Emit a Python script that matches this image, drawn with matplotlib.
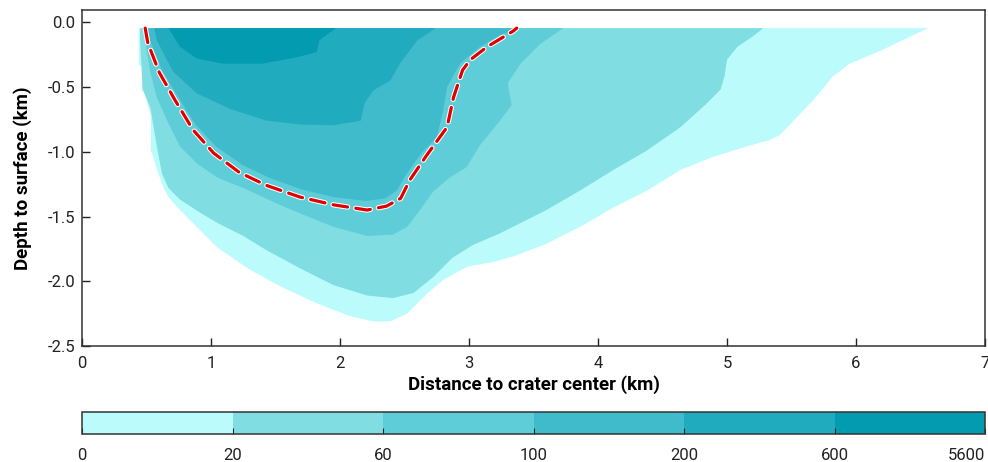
import matplotlib
matplotlib.use("Agg")
import numpy as np
import matplotlib.pyplot as plt
from matplotlib.colors import ListedColormap, BoundaryNorm
from matplotlib.cm import ScalarMappable
import matplotlib.patheffects as pe

plt.rcParams['font.family'] = ['Roboto', 'DejaVu Sans']
plt.rcParams['axes.unicode_minus'] = False

# contour levels and colours
levels = [0, 20, 60, 100, 200, 600, 5600]
colors = ['#BBFBFB', '#80DEE3', '#5ECDD8', '#3FBBCB', '#21ABBF', '#029BB0']

# lower boundary of each filled region (x in km, depth in km)
x_0 = [0.44, 0.44, 0.465, 0.465, 0.49, 0.51, 0.535, 0.535, 0.566, 0.59, 0.63, 0.67, 0.74, 0.84, 0.94,
       1.05, 1.30, 1.56, 1.82, 2.08, 2.26, 2.39, 2.52, 2.67, 2.80, 2.98, 3.19, 3.34, 3.60, 3.86,
       4.12, 4.38, 4.64, 4.89, 5.15, 5.33, 5.41, 5.67, 5.82, 5.95, 6.19, 6.39, 6.56]
z_0 = [-0.046, -0.33, -0.34, -0.52, -0.55, -0.64, -0.73, -0.99, -1.09, -1.165, -1.27, -1.35, -1.43,
       -1.53, -1.63, -1.74, -1.91, -2.05, -2.17, -2.27, -2.31, -2.31, -2.25, -2.10, -1.99, -1.89,
       -1.85, -1.81, -1.71, -1.58, -1.43, -1.30, -1.14, -1.04, -0.96, -0.91, -0.87, -0.60, -0.42,
       -0.32, -0.22, -0.125, -0.046]

x_20 = [0.45, 0.45, 0.47, 0.53, 0.55, 0.58, 0.62, 0.67, 0.76, 0.915, 1.05, 1.25, 1.43, 1.69, 1.95,
        2.21, 2.41, 2.57, 2.72, 2.87, 3.03, 3.24, 3.34, 3.60, 3.86, 4.12, 4.38, 4.64, 4.84, 4.95,
        4.98, 5.00, 5.08, 5.20, 5.28]
z_20 = [-0.046, -0.14, -0.52, -0.66, -0.78, -0.96, -1.17, -1.28, -1.37, -1.47, -1.55, -1.65, -1.76,
        -1.90, -2.03, -2.11, -2.13, -2.09, -1.97, -1.82, -1.72, -1.63, -1.58, -1.45, -1.30, -1.14,
        -0.99, -0.81, -0.63, -0.52, -0.42, -0.29, -0.19, -0.11, -0.046]

x_60 = [0.48, 0.49, 0.53, 0.58, 0.66, 0.76, 0.89, 1.05, 1.25, 1.51, 1.75, 1.95, 2.21, 2.41, 2.52,
        2.62, 2.72, 2.85, 2.98, 3.085, 3.24, 3.33, 3.30, 3.40, 3.55, 3.73]
z_60 = [-0.046, -0.14, -0.39, -0.58, -0.76, -0.96, -1.09, -1.20, -1.28, -1.40, -1.50, -1.58, -1.65,
        -1.64, -1.58, -1.45, -1.31, -1.20, -1.12, -0.95, -0.76, -0.64, -0.47, -0.32, -0.17, -0.046]

x_100 = [0.51, 0.53, 0.62, 0.76, 0.88, 1.04, 1.24, 1.45, 1.70, 1.95, 2.20, 2.35, 2.44, 2.51, 2.63,
         2.75, 2.80, 2.83, 2.93, 3.085, 3.24, 3.40]
z_100 = [-0.046, -0.15, -0.37, -0.60, -0.79, -0.96, -1.10, -1.20, -1.29, -1.35, -1.38, -1.36, -1.30,
         -1.18, -1.01, -0.89, -0.68, -0.50, -0.32, -0.19, -0.10, -0.046]

x_200 = [0.56, 0.58, 0.705, 0.89, 1.15, 1.43, 1.69, 1.95, 2.16, 2.19, 2.26, 2.39, 2.47, 2.60, 2.74]
z_200 = [-0.046, -0.14, -0.38, -0.55, -0.67, -0.76, -0.79, -0.795, -0.76, -0.625, -0.525, -0.45,
         -0.31, -0.14, -0.046]

x_600 = [0.67, 0.76, 0.89, 1.09, 1.40, 1.67, 1.82, 1.84, 1.92, 1.97]
z_600 = [-0.046, -0.19, -0.28, -0.32, -0.32, -0.27, -0.23, -0.14, -0.08, -0.046]

# red dashed contour
x_red = [0.49, 0.51, 0.60, 0.72, 0.86, 1.02, 1.22, 1.43, 1.69, 1.95, 2.21, 2.36, 2.47, 2.54, 2.67,
         2.83, 2.88, 2.95, 3.01, 3.14, 3.34, 3.37]
z_red = [-0.046, -0.16, -0.39, -0.60, -0.83, -1.01, -1.16, -1.26, -1.35, -1.41, -1.45, -1.42, -1.36,
         -1.22, -1.03, -0.81, -0.58, -0.37, -0.29, -0.19, -0.07, -0.046]

regions = [(x_0, z_0), (x_20, z_20), (x_60, z_60), (x_100, z_100), (x_200, z_200), (x_600, z_600)]

fig = plt.figure(figsize=(9.88, 4.62), dpi=100)
ax = fig.add_axes([0.083, 0.251, 0.914, 0.727])

for (xs, zs), c in zip(regions, colors):
    ax.fill(xs, zs, color=c, lw=0, zorder=2)

ax.plot(x_red, z_red, color='#E00000', lw=2.3, dashes=(4.6, 2.6), solid_capstyle='round',
        dash_capstyle='round', zorder=4,
        path_effects=[pe.Stroke(linewidth=3.8, foreground='white'), pe.Normal()])

ax.set_xlim(0, 7)
ax.set_ylim(-2.5, 0.093)
ax.set_xticks(range(0, 8))
ax.set_yticks([0.0, -0.5, -1.0, -1.5, -2.0, -2.5])
ax.set_yticklabels(['0.0', '-0.5', '-1.0', '-1.5', '-2.0', '-2.5'])
ax.tick_params(direction='in', length=6, width=1, labelsize=12, colors='#222222')
ax.tick_params(axis='x', pad=7)
ax.tick_params(axis='y', pad=5)
for s in ax.spines.values():
    s.set_color('#333333')
    s.set_linewidth(1.1)
ax.set_xlabel('Distance to crater center (km)', fontsize=13.5, fontweight='bold', labelpad=3)
ax.set_ylabel('Depth to surface (km)', fontsize=13.5, fontweight='bold', labelpad=11)

# colour bar
cmap = ListedColormap(colors)
norm = BoundaryNorm(levels, cmap.N)
sm = ScalarMappable(norm=norm, cmap=cmap)
cax = fig.add_axes([0.083, 0.0606, 0.914, 0.0476])
cb = fig.colorbar(sm, cax=cax, orientation='horizontal', spacing='uniform', ticks=levels)
cb.ax.set_xticklabels([str(v) for v in levels])
cb.ax.tick_params(direction='in', length=4, labelsize=12, colors='#222222', pad=10)
cb.ax.get_xticklabels()[-1].set_horizontalalignment('right')
cb.outline.set_edgecolor('#333333')
cb.outline.set_linewidth(1.1)

fig.savefig('out.png', dpi=100)
